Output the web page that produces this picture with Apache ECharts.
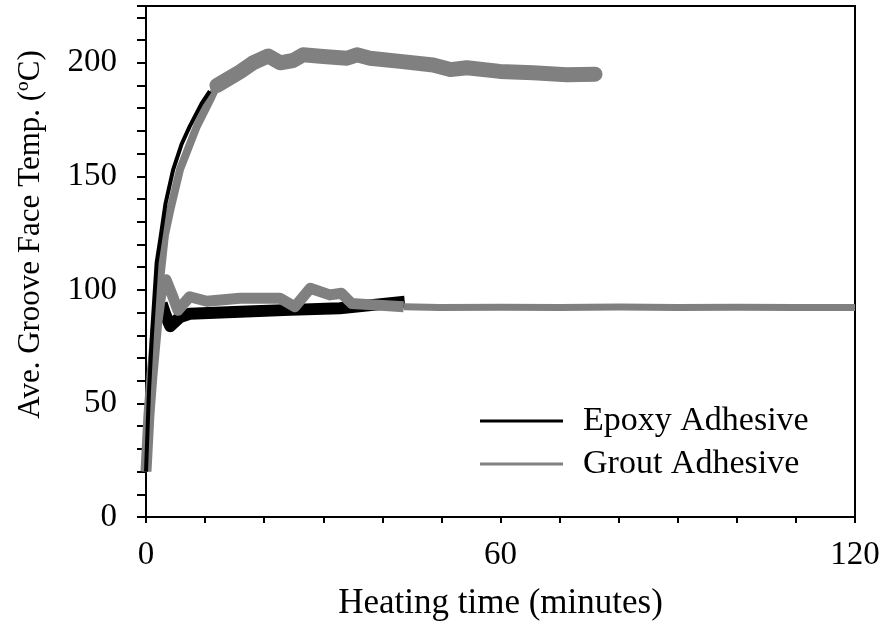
<!DOCTYPE html>
<html>
<head>
<meta charset="utf-8">
<script src="https://cdn.jsdelivr.net/npm/echarts@6/dist/echarts.min.js"></script>
<style>
    html, body { margin: 0; padding: 0; background: #fff; }
    #chart { width: 885px; height: 642px; }
</style>
</head>
<body>
<div id="chart"></div>
<script>
// values (time in minutes, temp in degC)
var epoxyRiseTime = [0, 0.5, 1, 1.6, 2.1, 2.65];
var epoxyRiseTemp = [20, 50, 72, 86, 92, 94];
var epoxyLowTime = [2.65, 3.3, 4.1, 5.75, 7.4, 15.9, 24.4, 32.8, 38.5, 43.8];
var epoxyLowTemp = [94, 89, 84, 88, 89.5, 90.4, 91.2, 91.9, 93.4, 94.8];
var epoxyHighTime = [0, 0.5, 1, 1.8, 2.4, 3.3, 4.6, 6, 7.4, 9.4, 10.8];
var epoxyHighTemp = [20, 55, 80, 112, 122, 138, 153, 164, 172, 182, 187.5];

var groutRiseTime = [0, 0.5, 1, 2, 3.2, 4.1, 5.75, 8.6, 11.1, 12, 15.9];
var groutRiseTemp = [20, 45, 62, 95, 124, 135, 153, 172, 185, 190, 196];
var groutHighTime = [12, 15.9, 18.1, 20.7, 22.7, 24.9, 26.6, 30, 34, 35.7, 37.9, 43, 48.6, 51.5, 54.3, 59.9, 65.5, 71.2, 76];
var groutHighTemp = [190, 196, 200, 203, 200, 201, 203.5, 202.8, 202, 203.5, 202, 200.6, 199, 197, 197.8, 196.2, 195.6, 194.7, 195];
var groutLowTime = [0, 0.5, 1, 1.8, 2.5, 3.4, 4.4, 5.4, 7.4, 10.3, 15.9, 22.7, 25.2, 27.8, 31.1, 33.1, 34.8, 38.5, 43.6];
var groutLowTemp = [20, 45, 62, 85, 98, 104.5, 98, 91, 97, 95, 96.3, 96.3, 92.6, 100.7, 97.8, 98.5, 94, 93.4, 92.6];
var groutTailTime = [43.6, 49.8, 60, 70, 80, 90, 100, 110, 120];
var groutTailTemp = [92.6, 92.2, 92.4, 92.2, 92.5, 92.3, 92.4, 92.2, 92.3];

var xLabels = [0, 60, 120];
var yLabels = [0, 50, 100, 150, 200];

var EPOXY = 'Epoxy Adhesive';
var GROUT = 'Grout Adhesive';
var FONT = 'Liberation Serif';

function pairs(xs, ys) {
    var out = [];
    for (var i = 0; i < xs.length; i++) {
        out.push([xs[i], ys[i]]);
    }
    return out;
}

function lineSeries(name, color, width, xs, ys, cap) {
    return {
        name: name,
        type: 'line',
        data: pairs(xs, ys),
        showSymbol: false,
        symbol: 'none',
        silent: true,
        itemStyle: { color: color },
        lineStyle: { color: color, width: width, join: 'round', cap: cap || 'butt' }
    };
}

var chart = echarts.init(document.getElementById('chart'));

var option = {
    animation: false,
    backgroundColor: '#fff',
    textStyle: { fontFamily: FONT, color: '#000' },
    grid: {
        left: 146,
        right: 30,
        top: 6,
        bottom: 125,
        show: true,
        borderColor: '#000',
        borderWidth: 2
    },
    legend: {
        data: [EPOXY, GROUT],
        orient: 'vertical',
        left: 475,
        top: 396,
        icon: 'rect',
        itemWidth: 83,
        itemHeight: 3,
        itemGap: 3,
        textStyle: {
            fontFamily: FONT,
            fontSize: 34,
            color: '#000',
            lineHeight: 40,
            padding: [0, 0, 0, 15]
        }
    },
    xAxis: {
        type: 'value',
        min: 0,
        max: 120,
        interval: 10,
        name: 'Heating time (minutes)',
        nameLocation: 'middle',
        nameGap: 69,
        nameTextStyle: { fontFamily: FONT, fontSize: 35, color: '#000' },
        axisLine: { lineStyle: { color: '#000', width: 2 } },
        axisTick: { length: 6, lineStyle: { color: '#000', width: 2 } },
        splitLine: { show: false },
        axisLabel: {
            fontFamily: FONT,
            fontSize: 33,
            color: '#000',
            margin: 22,
            formatter: function (v) {
                return xLabels.indexOf(v) >= 0 ? String(v) : '';
            }
        }
    },
    yAxis: {
        type: 'value',
        min: 0,
        max: 225,
        interval: 10,
        name: 'Ave. Groove Face Temp. (ºC)',
        nameLocation: 'middle',
        nameGap: 100,
        nameRotate: 90,
        nameTextStyle: { fontFamily: FONT, fontSize: 31, color: '#000', padding: [0, 0, 0, 54] },
        axisLine: { lineStyle: { color: '#000', width: 2 } },
        axisTick: { length: 9, lineStyle: { color: '#000', width: 2 } },
        splitLine: { show: false },
        axisLabel: {
            fontFamily: FONT,
            fontSize: 33,
            color: '#000',
            margin: 29,
            formatter: function (v) {
                return yLabels.indexOf(v) >= 0 ? String(v) : '';
            }
        }
    },
    series: [
        lineSeries(EPOXY, '#000', 3, epoxyRiseTime, epoxyRiseTemp),
        lineSeries(EPOXY, '#000', 12, epoxyLowTime, epoxyLowTemp),
        lineSeries(GROUT, '#808080', 11, groutLowTime, groutLowTemp),
        lineSeries(GROUT, '#808080', 7, groutTailTime, groutTailTemp),
        lineSeries(GROUT, '#808080', 8, groutRiseTime, groutRiseTemp),
        lineSeries(GROUT, '#808080', 15, groutHighTime, groutHighTemp, 'round'),
        lineSeries(EPOXY, '#000', 4, epoxyHighTime, epoxyHighTemp)
    ]
};

chart.setOption(option);
</script>
</body>
</html>
